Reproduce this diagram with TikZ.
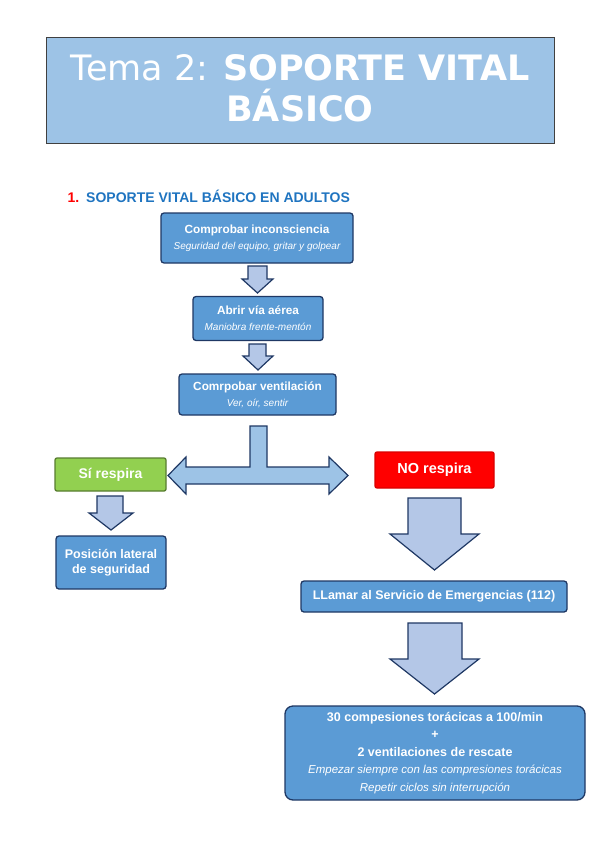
\documentclass[tikz,border=0pt]{standalone}
\usepackage{fontspec}
\setmainfont{Liberation Sans}
\newfontfamily\titlefont{DejaVu Sans}
\definecolor{boxblue}{HTML}{5B9BD5}
\definecolor{boxline}{HTML}{1F3864}
\definecolor{arrowfill}{HTML}{B4C7E7}
\definecolor{titlefill}{HTML}{9DC3E6}
\definecolor{headblue}{HTML}{1F74C0}
\definecolor{yesgreen}{HTML}{92D050}
\definecolor{nored}{HTML}{FF0000}
\begin{document}
\begin{tikzpicture}[x=1pt, y=-1pt,
stepbox/.style={rectangle, rounded corners=3pt, draw=boxline, line width=1.3pt, fill=boxblue, text=white, align=center, inner sep=2pt, font=\fontsize{11.8}{15}\selectfont\bfseries},
blockarrow/.style={draw=boxline, line width=1.2pt, fill=arrowfill, line join=miter},
]
\useasboundingbox (0,0) rectangle (599,848);

%Title
\draw[draw=black!75, line width=1pt, fill=titlefill] (46,38) rectangle (554,143);
\node[text=white, align=center, font=\titlefont\fontsize{35}{41}\selectfont] (title) at (300,88.5) {Tema 2: \textbf{SOPORTE VITAL}\\\textbf{BÁSICO}};

%Heading
\node[anchor=west, text=headblue, font=\fontsize{14}{16}\selectfont\bfseries] (heading) at (64,196) {\textcolor{nored}{1.}\hspace{7pt}SOPORTE VITAL BÁSICO EN ADULTOS};

%Steps
\node[stepbox, minimum width=192pt, minimum height=50pt] (check) at (257,238) {Comprobar inconsciencia\\[1pt]{\fontsize{10}{12}\selectfont\mdseries\itshape Seguridad del equipo, gritar y golpear}};
\node[stepbox, minimum width=130pt, minimum height=44pt] (airway) at (258,318.5) {Abrir vía aérea\\[1pt]{\fontsize{10}{12}\selectfont\mdseries\itshape Maniobra frente-mentón}};
\node[stepbox, minimum width=157pt, minimum height=41pt] (breath) at (257.5,394.5) {Comrpobar ventilación\\[1pt]{\fontsize{10}{12}\selectfont\mdseries\itshape Ver, oír, sentir}};

%Decision
\node[stepbox, rounded corners=2pt, fill=yesgreen, draw=yesgreen!60!black, minimum width=111pt, minimum height=33pt, font=\fontsize{14}{16}\selectfont\bfseries] (yes) at (110.5,474.5) {Sí respira};
\node[stepbox, rounded corners=2pt, fill=nored, draw=nored!85!black, minimum width=119pt, minimum height=36pt, font=\fontsize{14.5}{16}\selectfont\bfseries] (no) at (434.5,470) {NO respira};

%Results
\node[stepbox, minimum width=110pt, minimum height=53pt, font=\fontsize{12.5}{15}\selectfont\bfseries] (lateral) at (111,562.5) {Posición lateral\\de seguridad};
\node[stepbox, minimum width=266pt, minimum height=31pt, font=\fontsize{12.5}{15}\selectfont\bfseries] (call) at (434,596.5) {LLamar al Servicio de Emergencias (112)};
\node[stepbox, rounded corners=8pt, minimum width=300pt, minimum height=94pt, font=\fontsize{12.5}{17.5}\selectfont\bfseries] (cpr) at (435,753) {30 compesiones torácicas a 100/min\\+\\2 ventilaciones de rescate\\{\fontsize{11.5}{16}\selectfont\mdseries\itshape Empezar siempre con las compresiones torácicas}\\{\fontsize{11.5}{16}\selectfont\mdseries\itshape Repetir ciclos sin interrupción}};

%Block arrows
\draw[blockarrow] (248,266) -- (267,266) -- (267,279) -- (273,279) -- (257.5,293) -- (242,279) -- (248,279) -- cycle;
\draw[blockarrow] (249,344) -- (266,344) -- (266,356) -- (273,356) -- (258,370) -- (243,356) -- (249,356) -- cycle;
\draw[blockarrow, fill=titlefill] (250,426) -- (267,426) -- (267,467) -- (329,467) -- (329,457) -- (348,475.5) -- (329,494) -- (329,484) -- (186,484) -- (186,494) -- (168,475.5) -- (186,457) -- (186,467) -- (250,467) -- cycle;
\draw[blockarrow] (97,496) -- (123,496) -- (123,513) -- (133,513) -- (111,530) -- (89,513) -- (97,513) -- cycle;
\draw[blockarrow] (408,498) -- (461,498) -- (461,534) -- (479,534) -- (434.5,570) -- (390,534) -- (408,534) -- cycle;
\draw[blockarrow] (408,623) -- (462,623) -- (462,659) -- (479,659) -- (434.5,694) -- (390,659) -- (408,659) -- cycle;
\end{tikzpicture}
\end{document}
